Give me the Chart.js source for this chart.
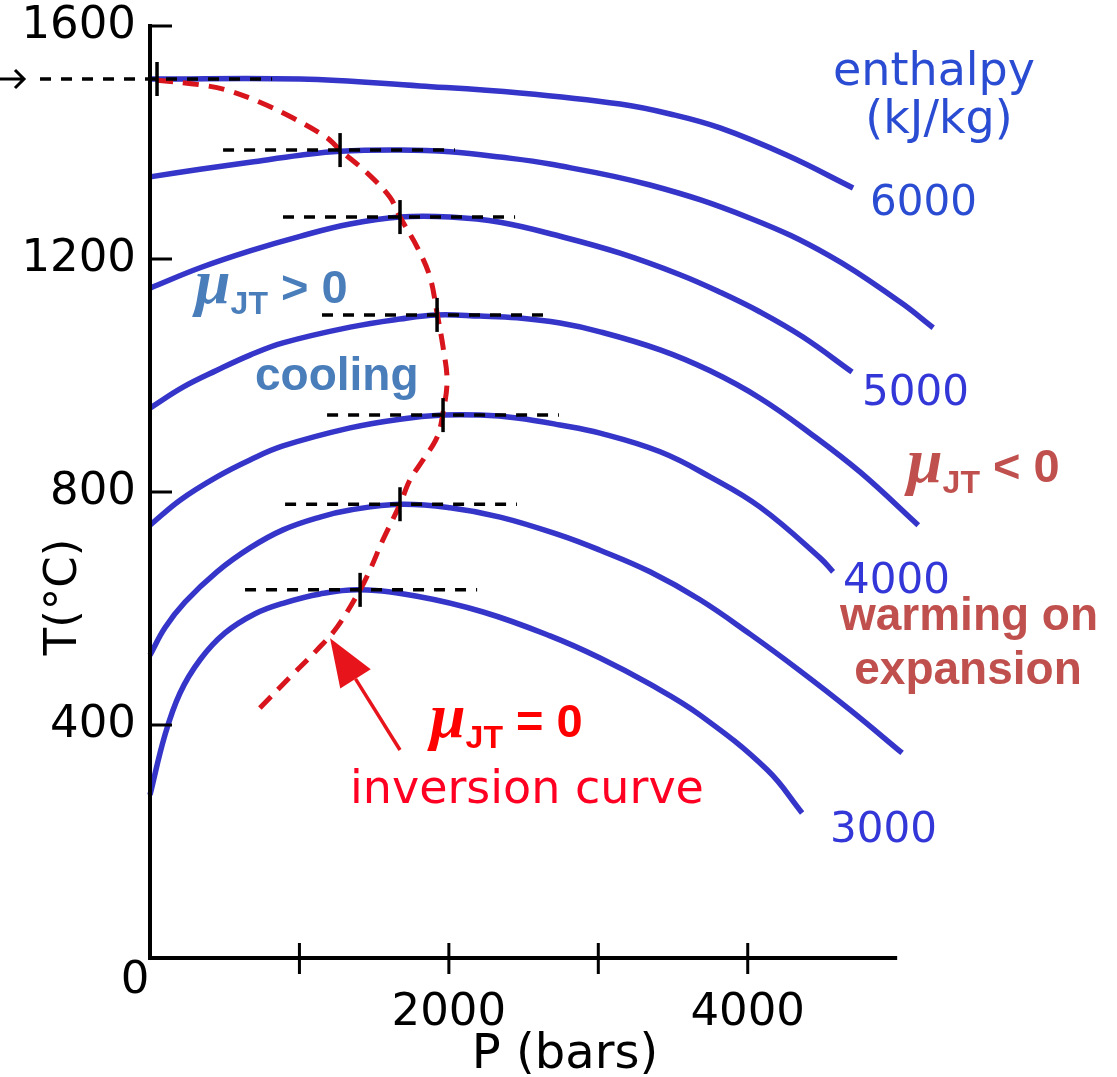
<!DOCTYPE html>
<html>
<head>
<meta charset="utf-8">
<title>Joule-Thomson inversion curve</title>
<script src="https://cdn.jsdelivr.net/npm/chart.js@4.4.1/dist/chart.umd.min.js"></script>
<style>
  body { margin: 0; background: #fff; }
  canvas { display: block; }
</style>
</head>
<body>
<canvas id="jtChart" width="1117" height="1077"></canvas>
<script>
// isenthalps: P in bars, T in °C (top curve first)
const enthalpyLevels = [6000, 5500, 5000, 4500, 4000, 3500, 3000];

const p6000 = [0, 1004, 1807, 2476, 3146, 3480, 3815, 4263, 4705];
const t6000 = [1509, 1509, 1497, 1485, 1466, 1449, 1425, 1378, 1322];

const p5500 = [0, 335, 669, 1004, 1272, 1673, 2008, 2343, 2677, 3346, 4016, 4551, 5020, 5241];
const t5500 = [1341, 1354, 1366, 1378, 1385, 1387, 1384, 1375, 1363, 1327, 1270, 1205, 1126, 1082];

const p5000 = [0, 335, 669, 1004, 1339, 1673, 2008, 2343, 2744, 3146, 3547, 3815, 4083, 4370, 4698];
const t5000 = [1150, 1185, 1214, 1239, 1260, 1272, 1272, 1263, 1239, 1210, 1173, 1143, 1109, 1066, 1006];

const p4500 = [0, 221, 448, 669, 890, 1339, 1673, 1921, 2209, 2456, 2744, 3012, 3414, 3748, 4083, 4417, 4753, 5141];
const t4500 = [944, 980, 1009, 1035, 1056, 1083, 1097, 1104, 1102, 1099, 1090, 1075, 1044, 1008, 961, 901, 834, 743];

const p4000 = [0, 201, 448, 669, 890, 1339, 1673, 1961, 2209, 2456, 2744, 3012, 3414, 3748, 4083, 4484, 4571];
const t4000 = [743, 786, 826, 855, 879, 910, 925, 932, 932, 927, 915, 901, 869, 826, 774, 687, 663];

const p3500 = [0, 100, 234, 448, 669, 890, 1138, 1339, 1673, 2008, 2343, 2744, 3012, 3346, 3681, 4016, 4350, 4685, 5033];
const t3500 = [520, 567, 611, 663, 704, 735, 757, 769, 779, 773, 757, 726, 700, 663, 615, 556, 493, 426, 352];

const p3000 = [0, 100, 201, 335, 502, 703, 890, 1138, 1406, 1787, 2229, 2677, 3012, 3346, 3681, 4130, 4364];
const t3000 = [280, 383, 455, 512, 558, 591, 609, 625, 632, 621, 594, 553, 515, 470, 417, 323, 249];

const curvesP = [p6000, p5500, p5000, p4500, p4000, p3500, p3000];
const curvesT = [t6000, t5500, t5000, t4500, t4000, t3500, t3000];

// inversion curve (mu_JT = 0)
const invP = [47, 335, 515, 736, 957, 1185, 1272, 1452, 1606, 1673, 1787, 1874, 1921, 1961, 1988,
              1961, 1921, 1827, 1740, 1673, 1559, 1472, 1406, 1252, 1118, 937, 723];
const invT = [1507, 1499, 1490, 1469, 1442, 1408, 1387, 1348, 1306, 1272, 1221, 1169, 1107, 1049, 992,
              936, 894, 855, 821, 779, 718, 666, 632, 568, 529, 482, 426];

// maximum of each isenthalp, and the dashed guide through it
const peakP = [47, 1272, 1673, 1921, 1961, 1673, 1406];
const peakT = [1509, 1387, 1272, 1104, 932, 779, 632];
const guideStartP = [-736, 489, 890, 1151, 1185, 904, 636];
const guideEndP = [817, 2041, 2443, 2697, 2737, 2456, 2189];

// red pointer to the inversion curve: tail, tip
const arrowP = [1673, 1205];
const arrowT = [357, 549];

const xTickValues = [0, 1000, 2000, 3000, 4000, 5000];
const xTickLabels = [2000, 4000];
const yTickValues = [0, 400, 800, 1200, 1600];
const yTickLabels = [400, 800, 1200, 1600];

const toPoints = (ps, ts) => ps.map((p, i) => ({ x: p, y: ts[i] }));

const datasets = [];

// little vertical marks at the maxima (drawn on top)
datasets.push({
    data: toPoints(peakP, peakT),
    showLine: false,
    pointStyle: 'line',
    pointRotation: 90,
    pointRadius: 17,
    pointBorderColor: '#000',
    pointBorderWidth: 3.5,
    clip: false,
});

guideStartP.forEach((p0, i) => {
    datasets.push({
        data: [{ x: p0, y: peakT[i] }, { x: guideEndP[i], y: peakT[i] }],
        showLine: true,
        borderColor: '#000',
        borderWidth: 3.5,
        borderDash: [11, 10],
        pointRadius: 0,
        clip: false,
    });
});

datasets.push({
    data: toPoints(invP, invT),
    showLine: true,
    borderColor: '#d8141c',
    borderWidth: 5,
    borderDash: [16, 10],
    tension: 0.35,
    pointRadius: 0,
    clip: false,
});

curvesP.forEach((ps, i) => {
    datasets.push({
        label: enthalpyLevels[i] + ' kJ/kg',
        data: toPoints(ps, curvesT[i]),
        showLine: true,
        borderColor: '#3535c9',
        borderWidth: 5.5,
        tension: 0.4,
        pointRadius: 0,
        clip: false,
    });
});

function drawMu(ctx, x, y, color, rest) {
    ctx.fillStyle = color;
    ctx.textAlign = 'left';
    ctx.textBaseline = 'alphabetic';
    ctx.font = 'italic bold 64px "Liberation Serif"';
    ctx.fillText('\u03bc', x, y);
    let w = ctx.measureText('\u03bc').width;
    ctx.font = 'bold 32px "Liberation Sans"';
    ctx.fillText('JT', x + w, y + 11);
    w += ctx.measureText('JT').width;
    ctx.font = 'bold 47px "Liberation Sans"';
    ctx.fillText(rest, x + w, y);
}

function label(ctx, str, x, y, font, color, align) {
    ctx.font = font;
    ctx.fillStyle = color;
    ctx.textAlign = align || 'left';
    ctx.textBaseline = 'alphabetic';
    ctx.fillText(str, x, y);
}

const annotations = {
    id: 'annotations',
    afterDatasetsDraw(chart) {
        const { ctx, scales: { x, y } } = chart;
        const x0 = x.getPixelForValue(0);
        const y0 = y.getPixelForValue(0);
        ctx.save();

        // axes
        ctx.strokeStyle = '#000';
        ctx.lineWidth = 4;
        ctx.beginPath();
        ctx.moveTo(x0, y.getPixelForValue(1600) - 2);
        ctx.lineTo(x0, y0);
        ctx.lineTo(x.getPixelForValue(5000), y0);
        ctx.stroke();

        ctx.lineWidth = 3;
        ctx.beginPath();
        yTickValues.filter(v => v > 0).forEach(v => {
            const py = y.getPixelForValue(v);
            ctx.moveTo(x0, py);
            ctx.lineTo(x0 + 22, py);
        });
        xTickValues.filter(v => v > 0 && v < 5000).forEach(v => {
            const px = x.getPixelForValue(v);
            ctx.moveTo(px, y0 - 15);
            ctx.lineTo(px, y0 + 16);
        });
        ctx.stroke();

        // black arrow pointing at the top isenthalp
        const ay = y.getPixelForValue(peakT[0]);
        ctx.lineWidth = 3;
        ctx.beginPath();
        ctx.moveTo(0, ay);
        ctx.lineTo(24, ay);
        ctx.moveTo(15, ay - 9);
        ctx.lineTo(24, ay);
        ctx.lineTo(15, ay + 9);
        ctx.stroke();

        // red pointer arrow
        const tx = x.getPixelForValue(arrowP[0]), ty = y.getPixelForValue(arrowT[0]);
        const hx = x.getPixelForValue(arrowP[1]), hy = y.getPixelForValue(arrowT[1]);
        const len = Math.hypot(hx - tx, hy - ty);
        const ux = (hx - tx) / len, uy = (hy - ty) / len;
        const bx = hx - ux * 48, by = hy - uy * 48;
        ctx.strokeStyle = '#e8141b';
        ctx.fillStyle = '#e8141b';
        ctx.lineWidth = 3.5;
        ctx.beginPath();
        ctx.moveTo(tx, ty);
        ctx.lineTo(bx, by);
        ctx.stroke();
        ctx.beginPath();
        ctx.moveTo(hx, hy);
        ctx.lineTo(bx - uy * 18, by + ux * 18);
        ctx.lineTo(bx + uy * 18, by - ux * 18);
        ctx.closePath();
        ctx.fill();

        ctx.restore();
    },
    afterDraw(chart) {
        const { ctx } = chart;
        ctx.save();
        const axisFont = '45px "DejaVu Sans"';

        label(ctx, '0', 135, 993, axisFont, '#000', 'center');
        label(ctx, 'P (bars)', 565, 1068, '48px "DejaVu Sans"', '#000', 'center');

        ctx.save();
        ctx.translate(64, 597);
        ctx.rotate(-Math.PI / 2);
        ctx.font = axisFont;
        ctx.fillStyle = '#000';
        ctx.textAlign = 'center';
        ctx.textBaseline = 'middle';
        ctx.fillText('T(\u00b0C)', 0, 0);
        ctx.restore();

        const headFont = '46px "DejaVu Sans"';
        const numFont = '42px "DejaVu Sans"';
        label(ctx, 'enthalpy', 934, 85, headFont, '#2a4cd2', 'center');
        label(ctx, '(kJ/kg)', 939, 133, headFont, '#2a4cd2', 'center');
        label(ctx, String(enthalpyLevels[0]), 870, 215, numFont, '#2a4cd2');
        label(ctx, String(enthalpyLevels[2]), 862, 405, numFont, '#3437d8');
        label(ctx, String(enthalpyLevels[4]), 843, 593, numFont, '#3437d8');
        label(ctx, String(enthalpyLevels[6]), 830, 842, numFont, '#3437d8');

        drawMu(ctx, 195, 303, '#4a7ebb', ' > 0');
        label(ctx, 'cooling', 255, 390, 'bold 46px "Liberation Sans"', '#4a7ebb');

        drawMu(ctx, 907, 482, '#c0504d', ' < 0');
        label(ctx, 'warming on', 969, 630, 'bold 46px "Liberation Sans"', '#c0504d', 'center');
        label(ctx, 'expansion', 968, 684, 'bold 46px "Liberation Sans"', '#c0504d', 'center');

        drawMu(ctx, 430, 737, '#ff0000', ' = 0');
        label(ctx, 'inversion curve', 350, 803, '46px "DejaVu Sans"', '#ff0022');

        ctx.restore();
    }
};

new Chart(document.getElementById('jtChart'), {
    type: 'scatter',
    data: { datasets },
    options: {
        responsive: false,
        animation: false,
        events: [],
        layout: { padding: { top: 26, right: 175, bottom: 0, left: 0 } },
        plugins: { legend: { display: false }, tooltip: { enabled: false } },
        scales: {
            x: {
                type: 'linear',
                min: 0,
                max: 5300,
                grid: { display: false, drawTicks: false },
                border: { display: false },
                afterBuildTicks: scale => { scale.ticks = xTickValues.map(v => ({ value: v })); },
                afterFit: scale => {
                    scale.height = 119;
                    scale.paddingLeft = 0;
                    scale.paddingRight = 0;
                },
                ticks: {
                    autoSkip: false,
                    maxRotation: 0,
                    padding: 33,
                    color: '#000',
                    font: { family: 'DejaVu Sans', size: 45, lineHeight: 1 },
                    callback: v => xTickLabels.includes(v) ? String(v) : '',
                },
            },
            y: {
                type: 'linear',
                min: 0,
                max: 1600,
                grid: { display: false, drawTicks: false },
                border: { display: false },
                afterBuildTicks: scale => { scale.ticks = yTickValues.map(v => ({ value: v })); },
                afterFit: scale => {
                    scale.width = 150;
                    scale.paddingTop = 0;
                    scale.paddingBottom = 0;
                },
                ticks: {
                    autoSkip: false,
                    padding: 14,
                    color: '#000',
                    font: { family: 'DejaVu Sans', size: 45, lineHeight: 1 },
                    callback: v => yTickLabels.includes(v) ? String(v) : '',
                },
            },
        },
    },
    plugins: [annotations],
});
</script>
</body>
</html>
